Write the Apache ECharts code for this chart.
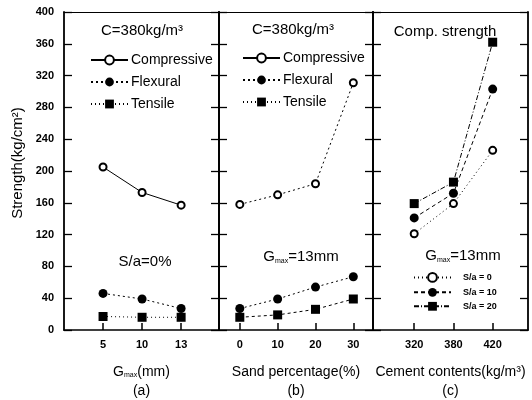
<!DOCTYPE html>
<html><head><meta charset="utf-8">
<script src="https://cdn.jsdelivr.net/npm/echarts@6/dist/echarts.min.js"></script>
<style>html,body{margin:0;padding:0;background:#fff}#c{width:532px;height:400px}</style>
</head><body><div id="c"></div>
<script>
// ---- data ----
var gmaxLabels = ['5', '10', '13'];
var sandLabels = ['0', '10', '20', '30'];
var cementLabels = ['320', '380', '420'];
var yTicks = [0, 40, 80, 120, 160, 200, 240, 280, 320, 360, 400];

var aCompressive = [205, 173, 157];
var aFlexural = [46, 39, 27];
var aTensile = [17, 16, 16];

var bCompressive = [158, 170, 184, 311];
var bFlexural = [27, 39, 54, 67];
var bTensile = [16, 19, 26, 39];

var cSa0 = [121, 159, 226];
var cSa10 = [141, 172, 303];
var cSa20 = [159, 186, 362];

var FONT = '"Liberation Sans Narrow","Liberation Sans",Arial,sans-serif';
var BOLD = '"Liberation Sans","DejaVu Sans",Arial,sans-serif';

function pts(arr) { return arr.map(function (v, i) { return [i, v]; }); }
function idx(arr) { return arr.map(function (v, i) { return i; }); }

var grids = [
  { left: 64, top: 12, width: 155, height: 318, outerBoundsMode: 'none', containLabel: false },
  { left: 219, top: 12, width: 154, height: 318, outerBoundsMode: 'none', containLabel: false },
  { left: 373, top: 12, width: 155, height: 318, outerBoundsMode: 'none', containLabel: false }
];
var xRanges = [[-1, 2.97, gmaxLabels], [-0.55, 3.52, sandLabels], [-1.05, 2.9, cementLabels]];
var xNames = [
  '{g|G}{s|max}{n|(mm)}\n{n|(a)}',
  '{n|Sand percentage(%)}\n{n|(b)}',
  '{n|Cement contents(kg/m³)}\n{n|(c)}'
];
var nameRich = {
  g: { fontFamily: FONT, fontSize: 14, color: '#000', verticalAlign: 'bottom', lineHeight: 19 },
  s: { fontFamily: FONT, fontSize: 7, color: '#000', verticalAlign: 'bottom', lineHeight: 19 },
  n: { fontFamily: FONT, fontSize: 14, color: '#000', verticalAlign: 'bottom', lineHeight: 19, align: 'center' }
};

var xAxes = [], yAxes = [];
for (var i = 0; i < 3; i++) {
  var r = xRanges[i];
  (function (labels) {
    xAxes.push({
      type: 'value', gridIndex: i, min: r[0], max: r[1],
      name: xNames[i], nameLocation: 'middle', nameGap: 30,
      nameTextStyle: { rich: nameRich, align: 'center' },
      axisLine: { onZero: false, lineStyle: { color: '#000', width: 1.5 } },
      axisTick: { inside: true, length: 7, customValues: idx(labels), lineStyle: { color: '#000', width: 1.5 } },
      axisLabel: { customValues: idx(labels), formatter: function (v) { return labels[Math.round(v)]; },
        fontFamily: BOLD, fontWeight: 'bold', fontSize: 11, color: '#000', margin: 9 },
      splitLine: { show: false }
    });
    xAxes.push({
      type: 'value', gridIndex: i, min: r[0], max: r[1], position: 'top',
      axisLine: { onZero: false, lineStyle: { color: '#000', width: 1.2 } },
      axisTick: { show: false }, axisLabel: { show: false }, splitLine: { show: false }
    });
  })(r[2]);
  yAxes.push({
    type: 'value', gridIndex: i, min: 0, max: 400, interval: 40, position: 'left',
    axisLine: { show: true, onZero: false, lineStyle: { color: '#000', width: 1.8 } },
    axisTick: { show: true, inside: true, length: 8, lineStyle: { color: '#000', width: 1.3 } },
    axisLabel: { show: i === 0, fontFamily: BOLD, fontWeight: 'bold', fontSize: 11, color: '#000', margin: 10 },
    splitLine: { show: false }
  });
  yAxes.push({
    type: 'value', gridIndex: i, min: 0, max: 400, interval: 40, position: 'right',
    axisLine: { show: true, onZero: false, lineStyle: { color: '#000', width: 1.8 } },
    axisTick: { show: true, inside: true, length: 8, lineStyle: { color: '#000', width: 1.3 } },
    axisLabel: { show: false }, splitLine: { show: false }
  });
}

function ser(name, g, data, symbol, size, ltype, lwidth) {
  var open = symbol === 'open';
  return {
    name: name, type: 'line', xAxisIndex: g * 2, yAxisIndex: g * 2, data: pts(data),
    symbol: open ? 'circle' : symbol, symbolSize: size, showSymbol: true,
    lineStyle: { color: '#000', width: lwidth || 1, type: ltype },
    itemStyle: { color: open ? '#fff' : '#000', borderColor: '#000', borderWidth: open ? 2 : 0 },
    emphasis: { disabled: true }, animation: false
  };
}

var series = [
  ser('Compressive', 0, aCompressive, 'open', 7, 'solid'),
  ser('Flexural', 0, aFlexural, 'circle', 9, [2, 3]),
  ser('Tensile', 0, aTensile, 'rect', 9, [1, 3]),
  ser('Compressive', 1, bCompressive, 'open', 7, [2, 3]),
  ser('Flexural', 1, bFlexural, 'circle', 9, [2, 3]),
  ser('Tensile', 1, bTensile, 'rect', 9, [3, 3]),
  ser('S/a = 0', 2, cSa0, 'open', 7, [1, 3]),
  ser('S/a = 10', 2, cSa10, 'circle', 9, [4, 3]),
  ser('S/a = 20', 2, cSa20, 'rect', 9, [5, 2, 1, 2])
];

function legend(left, top, data, fs, gap, bold) {
  return {
    orient: 'vertical', left: left, top: top, data: data, selectedMode: false, padding: 0,
    itemWidth: 37, itemHeight: 11, itemGap: gap,
    textStyle: { fontFamily: bold ? BOLD : FONT, fontSize: fs, fontWeight: bold ? 'bold' : 'normal', color: '#000',
      padding: bold ? [0, 0, 0, 7] : [0, 0, 0, -2] }
  };
}

var subRich = {
  g: { fontFamily: FONT, fontSize: 15, fill: '#000', verticalAlign: 'bottom' },
  s: { fontFamily: FONT, fontSize: 7, fill: '#000', verticalAlign: 'bottom' }
};
function txt(x, y, s, extra) {
  var o = { type: 'text', x: x, y: y, style: { text: s, font: '15px ' + FONT, fill: '#000', align: 'center', verticalAlign: 'middle' } };
  if (extra) for (var k in extra) o.style[k] = extra[k];
  return o;
}

var chart = echarts.init(document.getElementById('c'), null, { renderer: 'canvas' });
chart.setOption({
  animation: false,
  backgroundColor: '#fff',
  grid: grids,
  xAxis: xAxes,
  yAxis: yAxes,
  legend: [
    legend(90, 53, ['Compressive', 'Flexural', 'Tensile'], 14, 8, false),
    legend(242, 51, ['Compressive', 'Flexural', 'Tensile'], 14, 8, false),
    legend(413, 272, ['S/a = 0', 'S/a = 10', 'S/a = 20'], 9, 5, true)
  ],
  graphic: [
    txt(142, 31, 'C=380kg/m³'),
    txt(145, 262, 'S/a=0%'),
    txt(293, 30, 'C=380kg/m³'),
    txt(301, 257, '{g|G}{s|max}{g|=13mm}', { rich: subRich, font: null }),
    txt(445, 32, 'Comp. strength'),
    txt(463, 256, '{g|G}{s|max}{g|=13mm}', { rich: subRich, font: null }),
    { type: 'text', x: 18, y: 163, rotation: Math.PI / 2,
      style: { text: 'Strength(kg/cm²)', font: '15px ' + FONT, fill: '#000', align: 'center', verticalAlign: 'middle' } }
  ],
  series: series
});
</script></body></html>
